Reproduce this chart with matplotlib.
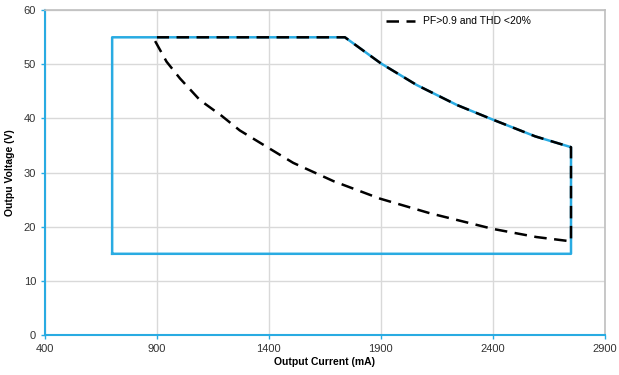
import matplotlib.pyplot as plt

plt.rcParams['font.family'] = ['Liberation Sans', 'DejaVu Sans']

# Operating window (blue outline)
box_i = [700, 700, 1740, 1900, 2060, 2240, 2400, 2590, 2750, 2750, 700]
box_v = [15, 55, 55, 50.2, 46.2, 42.5, 39.8, 36.7, 34.7, 15, 15]

# PF>0.9 and THD <20% region (dashed)
pf_i = [892, 943, 1003, 1092, 1189, 1270, 1397, 1509, 1690, 1896, 2119,
        2401, 2595, 2750, 2750, 2590, 2400, 2240, 2060, 1900, 1740, 900]
pf_v = [54.3, 50.5, 47.4, 43.4, 40.5, 37.8, 34.6, 31.8, 28.4, 25.2, 22.5,
        19.6, 18.1, 17.3, 34.7, 36.7, 39.8, 42.5, 46.2, 50.2, 55, 55]

blue = '#29abe2'

fig = plt.figure(figsize=(6.19, 3.75), dpi=100)
ax = fig.add_axes([0.0727, 0.1067, 0.904, 0.866])

ax.plot(box_i, box_v, color=blue, lw=1.8, zorder=3)
ax.plot(pf_i, pf_v, color='black', lw=1.8, ls=(0, (5, 3)),
        label='PF>0.9 and THD <20%', zorder=4)

ax.set_xlim(400, 2900)
ax.set_ylim(0, 60)
ax.set_xticks(range(400, 2901, 500))
ax.set_yticks(range(0, 61, 10))
ax.grid(color='#d9d9d9', lw=1)
ax.set_axisbelow(True)

for s in ['left', 'bottom']:
    ax.spines[s].set_color(blue)
    ax.spines[s].set_linewidth(1.5)
for s in ['right', 'top']:
    ax.spines[s].set_color('#bfbfbf')
    ax.spines[s].set_linewidth(1.2)
ax.tick_params(axis='both', colors=blue, labelcolor='#333333',
               labelsize=8, length=3, width=1)

ax.set_xlabel('Output Current (mA)', fontsize=7.5, fontweight='bold', labelpad=2)
ax.set_ylabel('Outpu Voltage (V)', fontsize=7.5, fontweight='bold', labelpad=6)

ax.legend(loc='upper right', bbox_to_anchor=(0.88, 1.0), frameon=False,
          fontsize=7.5, handlelength=2.8, borderaxespad=0.2)

fig.savefig('out.png', dpi=100)
